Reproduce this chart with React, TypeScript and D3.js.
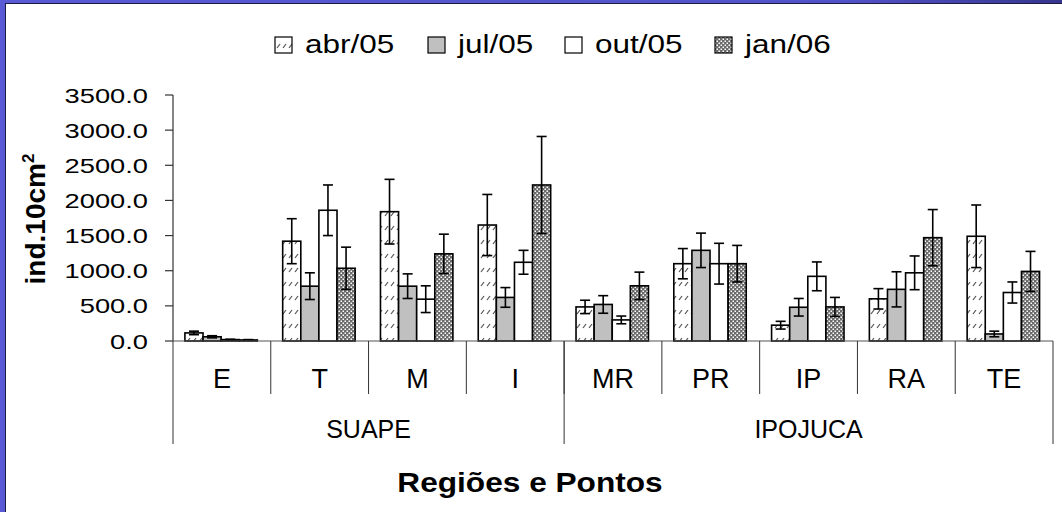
import React from "react";
import * as d3 from "d3";

// ---- data ----
const categories = ["E", "T", "M", "I", "MR", "PR", "IP", "RA", "TE"];
const groupNames = ["SUAPE", "IPOJUCA"];
const groupSizes = [4, 5];
const seriesNames = ["abr/05", "jul/05", "out/05", "jan/06"];
const abr05 = [115, 1420, 1840, 1650, 485, 1100, 225, 600, 1490];
const abr05Err = [25, 320, 460, 435, 95, 215, 55, 145, 445];
const jul05 = [60, 780, 780, 620, 520, 1290, 480, 735, 100];
const jul05Err = [15, 190, 175, 140, 125, 245, 125, 250, 40];
const out05 = [20, 1860, 595, 1120, 300, 1100, 920, 970, 690];
const out05Err = [5, 360, 190, 170, 55, 290, 205, 240, 150];
const jan06 = [15, 1035, 1240, 2220, 785, 1100, 485, 1470, 990];
const jan06Err = [5, 300, 280, 690, 195, 260, 135, 400, 285];
const yTicks = [0, 500, 1000, 1500, 2000, 2500, 3000, 3500];

const seriesValues = [abr05, jul05, out05, jan06];
const seriesErrors = [abr05Err, jul05Err, out05Err, jan06Err];
const seriesFills = ["url(#pAbr)", "#c0c0c0", "#ffffff", "url(#pJan)"];

// ---- layout ----
const W = 1062;
const H = 512;
const plotLeft = 173;
const plotRight = 1053;
const plotTop = 95;
const plotBottom = 341;
const font = "'Liberation Sans', Arial, Helvetica, sans-serif";
const legendX = [275, 428, 565, 715];

function SText(props: any) {
  const { x, y, sx = 1, anchor = "start", size, weight = "normal", children } = props;
  return (
    <text
      transform={`translate(${x},${y}) scale(${sx},1)`}
      textAnchor={anchor}
      fontSize={size}
      fontWeight={weight}
      fontFamily={font}
      fill="#000"
    >
      {children}
    </text>
  );
}

export default function App() {
  const x0 = d3
    .scaleBand<string>()
    .domain(categories)
    .range([plotLeft, plotRight])
    .paddingInner(0)
    .paddingOuter(0);
  const x1 = d3
    .scaleBand<string>()
    .domain(seriesNames)
    .range([0, x0.bandwidth()])
    .paddingInner(0)
    .paddingOuter(0.7)
    .align(0.47);
  const y = d3.scaleLinear().domain([0, 3500]).range([plotBottom, plotTop]);
  const fmt = d3.format(".1f");

  // group boundaries
  let acc = 0;
  const groups = groupNames.map((name, i) => {
    const start = acc;
    acc += groupSizes[i];
    const x1g = x0(categories[start])!;
    const x2g = x0(categories[acc - 1])! + x0.bandwidth();
    return { name, x1g, x2g };
  });

  const capHalf = 5;

  return (
    <svg
      width={W}
      height={H}
      style={{ position: "absolute", left: 0, top: 0, background: "#fff" }}
    >
      <defs>
        <pattern id="pAbr" width="6" height="14" patternUnits="userSpaceOnUse">
          <rect width="6" height="14" fill="#fff" />
          <path d="M1,6 L4,2" stroke="#555" strokeWidth="1.2" />
        </pattern>
        <pattern id="pJan" width="4" height="4" patternUnits="userSpaceOnUse">
          <rect width="4" height="4" fill="#6a6a6a" />
          <rect x="0.5" y="0.5" width="1.5" height="1.5" fill="#fff" />
          <rect x="2.5" y="2.5" width="1.5" height="1.5" fill="#fff" />
        </pattern>
        <linearGradient id="gTop" x1="0" x2="1" y1="0" y2="0">
          <stop offset="0" stopColor="#5a5ad6" />
          <stop offset="0.8" stopColor="#5252c8" />
          <stop offset="1" stopColor="#36368e" />
        </linearGradient>
      </defs>
      <rect x={0} y={0} width={W} height={H} fill="#fff" />

      {/* frame */}
      <rect x={0} y={0} width={W} height={3} fill="url(#gTop)" />
      <rect x={0} y={0} width={5} height={H} fill="#5a5ad6" />
      <line x1={5} x2={W} y1={3.5} y2={3.5} stroke="#1c1c40" strokeWidth={1} />
      <line x1={5.5} x2={5.5} y1={3} y2={H} stroke="#1c1c40" strokeWidth={1} />

      {/* legend */}
      {seriesNames.map((s, i) => (
        <g key={s}>
          <rect
            x={legendX[i]}
            y={37}
            width={17}
            height={16}
            fill={seriesFills[i]}
            stroke="#000"
            strokeWidth={1.2}
          />
          <SText x={(legendX[i] + 30)} y={53} sx={1.26} size={25}>
            {s}
          </SText>
        </g>
      ))}

      {/* y axis */}
      <line x1={plotLeft} x2={plotLeft} y1={plotTop} y2={plotBottom} stroke="#333" strokeWidth={1.2} />
      {yTicks.map((t) => (
        <g key={t}>
          <line x1={plotLeft - 8} x2={plotLeft} y1={y(t)} y2={y(t)} stroke="#333" strokeWidth={1.2} />
          <SText x={148} y={y(t) + 7.5} sx={1.3} size={21} anchor="end">
            {fmt(t)}
          </SText>
        </g>
      ))}

      {/* y title */}
      <text
        transform={`translate(45,${(plotTop + plotBottom) / 2 + 1}) rotate(-90)`}
        textAnchor="middle"
        fontSize={28}
        fontWeight="bold"
        fontFamily={font}
      >
        ind.10cm
        <tspan dy={-11} fontSize={17}>
          2
        </tspan>
      </text>

      {/* bars */}
      {categories.map((c, ci) => (
        <g key={c}>
          {seriesNames.map((s, si) => {
            const v = seriesValues[si][ci];
            const bx = x0(c)! + x1(s)!;
            return (
              <rect
                key={s}
                x={bx}
                y={y(v)}
                width={x1.bandwidth()}
                height={y(0) - y(v)}
                fill={seriesFills[si]}
                stroke="#000"
                strokeWidth={1.6}
              />
            );
          })}
          {seriesNames.map((s, si) => {
            const v = seriesValues[si][ci];
            const e = seriesErrors[si][ci];
            const cx = x0(c)! + x1(s)! + x1.bandwidth() / 2;
            const lo = Math.max(0, v - e);
            const hi = v + e;
            return (
              <g key={s} stroke="#000" strokeWidth={1.6}>
                <line x1={cx} x2={cx} y1={y(lo)} y2={y(hi)} />
                <line x1={cx - capHalf} x2={cx + capHalf} y1={y(hi)} y2={y(hi)} />
                <line x1={cx - capHalf} x2={cx + capHalf} y1={y(lo)} y2={y(lo)} />
              </g>
            );
          })}
        </g>
      ))}

      {/* x axis */}
      <line x1={plotLeft} x2={plotRight} y1={plotBottom} y2={plotBottom} stroke="#555" strokeWidth={1.2} />
      {categories.map((c, ci) => (
        <g key={c}>
          {ci > 0 && (
            <line
              x1={x0(c)!}
              x2={x0(c)!}
              y1={plotBottom}
              y2={394}
              stroke="#333"
              strokeWidth={1}
            />
          )}
          <SText x={x0(c)! + x0.bandwidth() / 2} y={388} size={27} anchor="middle">
            {c}
          </SText>
        </g>
      ))}
      {groups.map((g, gi) => (
        <g key={g.name}>
          {gi === 0 && (
            <line x1={g.x1g} x2={g.x1g} y1={plotBottom} y2={444} stroke="#333" strokeWidth={1} />
          )}
          <line x1={g.x2g} x2={g.x2g} y1={plotBottom} y2={444} stroke="#333" strokeWidth={1} />
          <SText x={(g.x1g + g.x2g) / 2} y={438} size={25} anchor="middle">
            {g.name}
          </SText>
        </g>
      ))}

      {/* x title */}
      <SText x={530} y={492} size={28} weight="bold" sx={1.13} anchor="middle">
        Regiões e Pontos
      </SText>
    </svg>
  );
}
